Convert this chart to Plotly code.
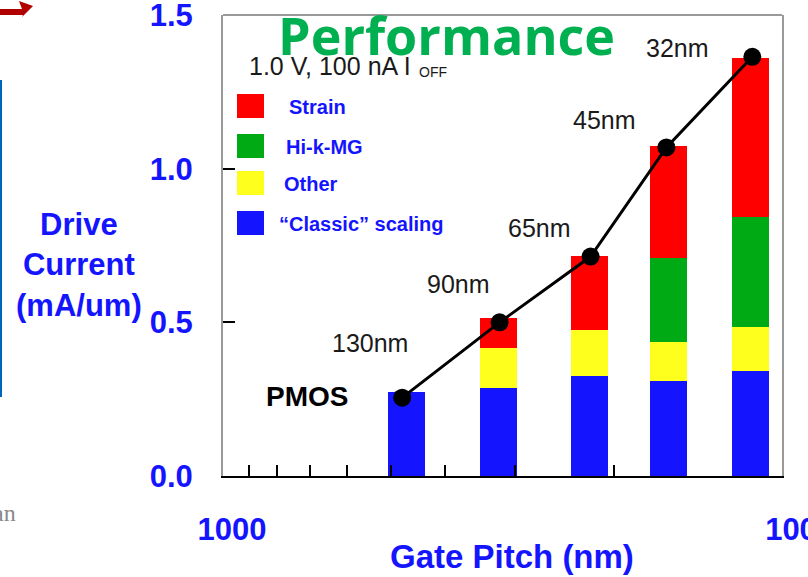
import plotly.graph_objects as go
import numpy as np

# ---------------- data ----------------
nodes = ["130nm", "90nm", "65nm", "45nm", "32nm"]
gate_pitch = [471, 322, 222, 160, 114]          # bar positions (nm, log axis)
classic = [0.272, 0.285, 0.326, 0.308, 0.342]
other = [0.0, 0.131, 0.149, 0.129, 0.144]
hikmg = [0.0, 0.0, 0.0, 0.273, 0.356]
strain = [0.0, 0.098, 0.240, 0.364, 0.519]
line_pitch = [478, 320, 220, 161, 113]
line_current = [0.255, 0.500, 0.714, 1.069, 1.364]

series_names = ["“Classic” scaling", "Other", "Hi-k-MG", "Strain"]
y_ticks = [0.0, 0.5, 1.0, 1.5]
x_major = [1000, 100]
x_minor = [900, 800, 700, 600, 500, 400, 300, 200]

# ---------------- style ----------------
W, H = 808, 577
L, R, T, B = 223, 26, 15, 101
colors = {"“Classic” scaling": "#1414FF", "Other": "#FFFF1E",
          "Hi-k-MG": "#00AA14", "Strain": "#FF0000"}
BLUE = "#1414FF"
ARIAL = "Liberation Sans, Arial, sans-serif"
THIN = "Liberation Sans, Arial, sans-serif"


def px(x):
    return (x - L) / (W - L - R)


def py(y):
    return (H - B - y) / (H - T - B)


fig = go.Figure()
seg_values = {"“Classic” scaling": classic, "Other": other,
              "Hi-k-MG": hikmg, "Strain": strain}
bar_w = [p * 0.152 for p in gate_pitch]
for name in series_names:
    fig.add_trace(go.Bar(
        x=gate_pitch, y=seg_values[name], width=bar_w, name=name,
        marker=dict(color=colors[name], line=dict(width=0)),
        showlegend=False))

fig.add_trace(go.Scatter(
    x=line_pitch, y=line_current, mode="lines+markers",
    line=dict(color="black", width=3),
    marker=dict(color="black", size=18),
    showlegend=False))

annotations = []
# node labels, offset (pixels) from the line points
label_shift = [(-32, 55), (-41, 38), (-51, 29), (-62, 27), (-75, 9)]
for n, xp, yv, (dx, dy) in zip(nodes, line_pitch, line_current, label_shift):
    annotations.append(dict(
        x=np.log10(xp), y=yv, xref="x", yref="y", text=n, showarrow=False,
        xshift=dx, yshift=dy, xanchor="center", yanchor="middle",
        font=dict(family=THIN, size=25, color="#1a1a1a")))

# title
annotations.append(dict(
    x=px(446.5), y=py(34), xref="paper", yref="paper", text="Performance",
    showarrow=False, xanchor="center", yanchor="middle",
    font=dict(family="Open Sans, sans-serif", size=52, color="#00B050", weight="bold")))
# condition text
annotations.append(dict(
    x=px(247), y=py(66), xref="paper", yref="paper", text="1.0 V, 100 nA I",
    showarrow=False, xanchor="left", yanchor="middle",
    font=dict(family=THIN, size=25, color="#1a1a1a")))
annotations.append(dict(
    x=px(417), y=py(72), xref="paper", yref="paper", text="OFF",
    showarrow=False, xanchor="left", yanchor="middle",
    font=dict(family=ARIAL, size=14, color="#1a1a1a")))

# legend (manual, top to bottom)
shapes = []
legend_rows = [("Strain", 106, 287), ("Hi-k-MG", 146, 284),
               ("Other", 183, 282), ("“Classic” scaling", 223, 277)]
for name, yc, xl in legend_rows:
    shapes.append(dict(type="rect", xref="paper", yref="paper",
                       x0=px(237), x1=px(264), y0=py(yc - 12), y1=py(yc + 12),
                       fillcolor=colors[name], line=dict(width=0)))
    annotations.append(dict(
        x=px(xl), y=py(yc + 1), xref="paper", yref="paper", text=name,
        showarrow=False, xanchor="left", yanchor="middle",
        font=dict(family=ARIAL, size=20, color=BLUE, weight="bold")))

annotations.append(dict(
    x=px(306.5), y=py(397), xref="paper", yref="paper", text="PMOS",
    showarrow=False, xanchor="center", yanchor="middle",
    font=dict(family=ARIAL, size=28, color="black", weight="bold")))

annotations.append(dict(
    x=px(79), y=py(265), xref="paper", yref="paper",
    text="Drive<br>Current<br>(mA/um)", showarrow=False,
    xanchor="center", yanchor="middle", align="center",
    font=dict(family=ARIAL, size=31, color=BLUE, weight="bold")))

annotations.append(dict(
    x=px(512), y=py(556), xref="paper", yref="paper",
    text="Gate Pitch (nm)", showarrow=False,
    xanchor="center", yanchor="middle",
    font=dict(family=ARIAL, size=33, color=BLUE, weight="bold")))

annotations.append(dict(
    x=px(18), y=py(513), xref="paper", yref="paper", text="an",
    showarrow=False, xanchor="right", yanchor="middle",
    font=dict(family="Liberation Serif, serif", size=24, color="#888888")))

# frame top line
shapes.append(dict(type="line", xref="paper", yref="paper", x0=0, x1=1, y0=1, y1=1,
                   line=dict(color="#999999", width=2)))
# slide decorations: blue box edge and red arrow
shapes.append(dict(type="line", xref="paper", yref="paper",
                   x0=px(1), x1=px(1), y0=py(80), y1=py(397),
                   line=dict(color="#0066BB", width=2)))
arrow_pts = [(0, 9), (22, 9), (19, 1), (33, 6), (22, 17), (23, 15), (0, 15)]
path = "M " + " L ".join(f"{px(a)},{py(b)}" for a, b in arrow_pts) + " Z"
shapes.append(dict(type="path", xref="paper", yref="paper", path=path,
                   fillcolor="#B00000", line=dict(width=0)))

fig.update_layout(
    width=W, height=H, margin=dict(l=L, r=R, t=T, b=B),
    paper_bgcolor="white", plot_bgcolor="white",
    barmode="stack", bargap=0,
    annotations=annotations, shapes=shapes,
    xaxis=dict(type="log", range=[3, 2], showgrid=False, zeroline=False,
               showline=True, linecolor="black", linewidth=2,
               ticks="inside", ticklen=16, tickwidth=1.5, tickcolor="black",
               tickvals=x_major, ticktext=[str(v) for v in x_major],
               minor=dict(ticks="inside", ticklen=11, tickwidth=1.5,
                          tickcolor="black", tickvals=x_minor),
               tickfont=dict(family=ARIAL, size=31, color=BLUE, weight="bold"),
               ticklabelstandoff=25, ticklabelshift=-9,
               ticklabeloverflow="allow", automargin=False),
    yaxis=dict(range=[0, 1.5], showgrid=False, zeroline=False,
               showline=True, linecolor="#999999", linewidth=2, mirror=True,
               ticks="inside", ticklen=12, tickwidth=1.5, tickcolor="black",
               tickvals=y_ticks, ticktext=[f"{v:.1f}" for v in y_ticks],
               tickfont=dict(family=ARIAL, size=31, color=BLUE, weight="bold"),
               ticklabelstandoff=22, ticklabeloverflow="allow", automargin=False),
)

fig.write_html("out.html")
